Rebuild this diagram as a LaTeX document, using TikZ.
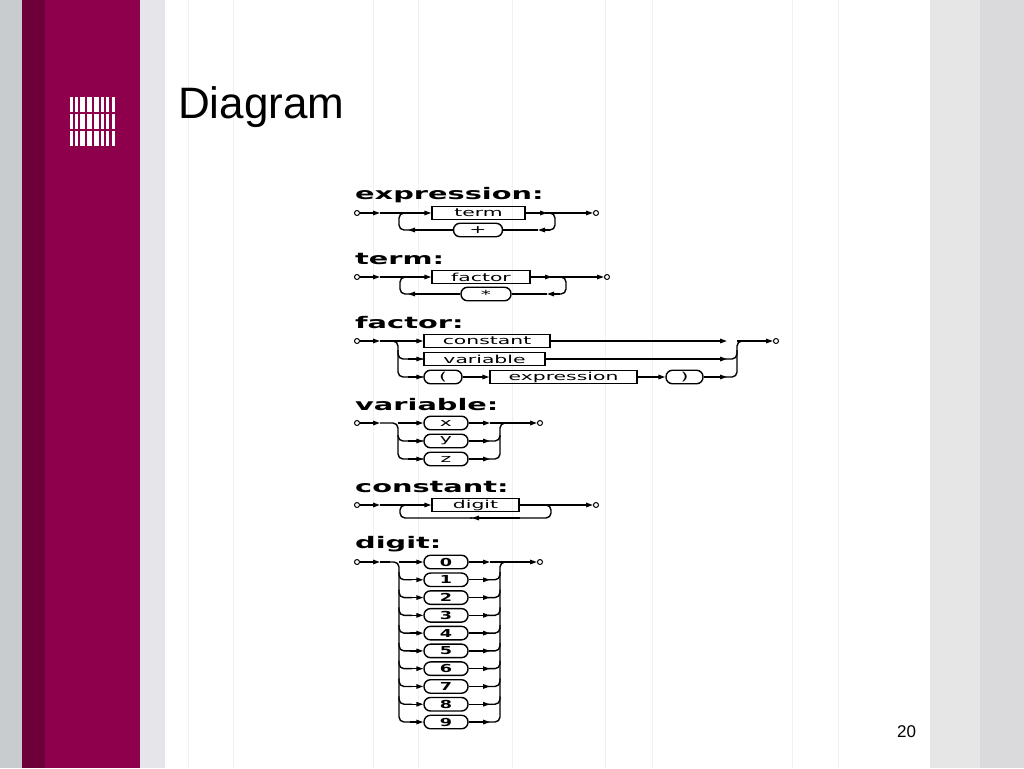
\documentclass[tikz,border=0pt]{standalone}
\usepackage{fontspec}
\usepackage{graphicx}
\setmainfont{Liberation Sans}
\newfontfamily\dvs{DejaVu Sans}
\usetikzlibrary{arrows.meta}
\definecolor{bandgray}{RGB}{201,204,207}
\definecolor{darkmaroon}{RGB}{110,0,57}
\definecolor{magentab}{RGB}{142,0,76}
\definecolor{lightstrip}{RGB}{229,229,234}
\definecolor{rgray1}{RGB}{230,230,230}
\definecolor{rgray2}{RGB}{218,218,220}
\begin{document}
\begin{tikzpicture}[x=1pt,y=-1pt,
  ln/.style={line width=1.4pt},
  rr/.style={line width=1.4pt,-{Triangle[length=7pt,width=4.5pt]}},
  brk/.style={line width=1.4pt,rounded corners=5pt},
  term/.style={draw,line width=1.4pt,minimum height=13.5pt,inner sep=0pt,font=\dvs\fontsize{11}{11}\selectfont},
  lit/.style={term,rounded corners=6.5pt},
  endpt/.style={circle,draw,line width=1pt,minimum size=5pt,inner sep=0pt},
  ttl/.style={anchor=base west,inner sep=0pt,font=\dvs\bfseries\fontsize{16}{16}\selectfont}]
\useasboundingbox (0,0) rectangle (1024,768);
% background
\fill[white] (0,0) rectangle (1024,768);
\fill[bandgray] (0,0) rectangle (22,768);
\fill[darkmaroon] (22,0) rectangle (45,768);
\fill[magentab] (45,0) rectangle (140,768);
\fill[lightstrip] (140,0) rectangle (165,768);
\fill[rgray1] (930,0) rectangle (980,768);
\fill[rgray2] (980,0) rectangle (1024,768);
\foreach \x in {188,233,373,418,512,605,652,792,838}
  \draw[gray!12,line width=1pt] (\x,0) -- (\x,768);
% logo
\foreach \x/\w in {70/3,75/3,80/5,87/5,94/5,101/3,106/3,112/3}
  \foreach \y in {97,114,131}
    \fill[white] (\x,\y) rectangle ++(\w,15);
\node[anchor=base west,inner sep=0pt,font=\fontsize{44}{44}\selectfont] (title) at (178,118) {Diagram};
\node[anchor=base west,inner sep=0pt,font=\fontsize{17}{17}\selectfont] (pg) at (897,737) {20};

% ===== expression
\node[ttl] (tE) at (355,199) {\scalebox{1.8}[1]{expression:}};
\node[endpt] (e0) at (357,213) {};
\node[term,minimum width=93pt] (eT) at (478.5,213) {\scalebox{1.85}[1]{term}};
\node[lit,minimum width=49pt] (eP) at (478,230) {\scalebox{1.85}[1]{+}};
\node[endpt] (e1) at (596,213) {};
\draw[rr] (e0) -- (380,213);
\draw[rr] (380,213) -- (eT.west);
\draw[rr] (eT.east) -- (547,213);
\draw[rr] (545,213) -- (e1.west);
\draw[brk] (545,213) -- (555,213) -- (555,230) -- (545,230);
\draw[rr] (550,230) -- (538,230);
\draw[ln] (538,230) -- (eP.east);
\draw[rr] (eP.west) -- (408,230);
\draw[brk] (410,230) -- (399,230) -- (399,213) -- (410,213);

% ===== term
\node[ttl] (tT) at (355,264) {\scalebox{1.8}[1]{term:}};
\node[endpt] (t0) at (357,277) {};
\node[term,minimum width=98pt] (tF) at (481,277) {\scalebox{1.85}[1]{factor}};
\node[lit,minimum width=50pt] (tS) at (486,294) {\scalebox{1.85}[1]{*}};
\node[endpt] (t1) at (607,277) {};
\draw[rr] (t0) -- (380,277);
\draw[rr] (380,277) -- (tF.west);
\draw[rr] (tF.east) -- (552,277);
\draw[rr] (550,277) -- (t1.west);
\draw[brk] (555,277) -- (566,277) -- (566,294) -- (555,294);
\draw[rr] (560,294) -- (547,294);
\draw[ln] (547,294) -- (tS.east);
\draw[rr] (tS.west) -- (408,294);
\draw[brk] (410,294) -- (400,294) -- (400,277) -- (410,277);

% ===== factor
\node[ttl] (tFa) at (355,328) {\scalebox{1.8}[1]{factor:}};
\node[endpt] (f0) at (357,341) {};
\node[term,minimum width=126pt] (fC) at (487,341) {\scalebox{1.85}[1]{constant}};
\node[term,minimum width=121pt] (fV) at (484.5,359) {\scalebox{1.85}[1]{variable}};
\node[lit,minimum width=38pt] (fL) at (443,377) {\scalebox{1.85}[1]{(}};
\node[term,minimum width=147pt] (fE) at (563.5,377) {\scalebox{1.85}[1]{expression}};
\node[lit,minimum width=37pt] (fR) at (684.5,377) {\scalebox{1.85}[1]{)}};
\node[endpt] (f1) at (776,341) {};
\draw[rr] (f0) -- (380,341);
\draw[ln] (380,341) -- (398,341);
\draw[rr] (398,341) -- (fC.west);
\draw[brk] (390,341) -- (398,341) -- (398,377) -- (fL.west);
\draw[brk] (398,350) -- (398,359) -- (fV.west);
\draw[rr] (408,359) -- (fV.west);
\draw[rr] (408,377) -- (fL.west);
\draw[rr] (fL.east) -- (fE.west);
\draw[rr] (fE.east) -- (fR.west);
\draw[rr] (fC.east) -- (727,341);
\draw[rr] (fV.east) -- (727,359);
\draw[rr] (fR.east) -- (727,377);
\draw[brk] (725,377) -- (737,377) -- (737,341) -- (750,341);
\draw[brk] (725,359) -- (737,359) -- (737,350);
\draw[rr] (737,341) -- (f1.west);

% ===== variable
\node[ttl] (tV) at (355,410) {\scalebox{1.8}[1]{variable:}};
\node[endpt] (v0) at (357,423) {};
\node[lit,minimum width=44pt] (vx) at (446,423) {\scalebox{1.85}[1]{x}};
\node[lit,minimum width=44pt] (vy) at (446,441) {\scalebox{1.85}[1]{y}};
\node[lit,minimum width=44pt] (vz) at (446,459) {\scalebox{1.85}[1]{z}};
\node[endpt] (v1) at (540,423) {};
\draw[rr] (v0) -- (380,423);
\draw[brk] (380,423) -- (398,423) -- (398,459) -- (vz.west);
\draw[brk] (398,435) -- (398,441) -- (vy.west);
\draw[rr] (398,423) -- (vx.west);
\draw[rr] (408,441) -- (vy.west);
\draw[rr] (408,459) -- (vz.west);
\foreach \n/\y in {vx/423,vy/441,vz/459} \draw[rr] (\n.east) -- (490,\y);
\draw[brk] (488,459) -- (500,459) -- (500,423) -- (510,423);
\draw[brk] (488,441) -- (500,441) -- (500,435);
\draw[rr] (490,423) -- (v1.west);

% ===== constant
\node[ttl] (tC) at (355,492) {\scalebox{1.8}[1]{constant:}};
\node[endpt] (c0) at (357,505) {};
\node[term,minimum width=87pt] (cD) at (475.5,505) {\scalebox{1.85}[1]{digit}};
\node[endpt] (c1) at (596,505) {};
\draw[rr] (c0) -- (380,505);
\draw[rr] (380,505) -- (cD.west);
\draw[rr] (cD.east) -- (c1.west);
\draw[brk] (540,505) -- (551,505) -- (551,518) -- (470,518);
\draw[rr] (520,518) -- (472,518);
\draw[brk] (472,518) -- (400,518) -- (400,505) -- (410,505);

% ===== digit
\node[ttl] (tD) at (355,548) {\scalebox{1.8}[1]{digit:}};
\node[endpt] (d0) at (357,562) {};
\node[endpt] (d1) at (540,562) {};
\draw[rr] (d0) -- (380,562);
\draw[ln] (380,562) -- (390,562);
\foreach \i in {0,...,9}{
  \pgfmathsetmacro{\yy}{562+\i*17.78}
  \node[lit,minimum width=44pt,font=\dvs\bfseries\fontsize{11}{11}\selectfont] (dd\i) at (446,\yy) {\scalebox{1.6}[1]{\i}};
  \draw[rr] (410,\yy) -- (dd\i.west);
  \draw[rr] (dd\i.east) -- (490,\yy);
}
\draw[brk] (390,562) -- (399,562) -- (399,722) -- (412,722);
\draw[brk] (488,722) -- (500,722) -- (500,562) -- (510,562);
\foreach \i in {1,...,8}{
  \pgfmathsetmacro{\yy}{562+\i*17.78}
  \draw[brk] (399,\yy-8) -- (399,\yy) -- (412,\yy);
  \draw[brk] (488,\yy) -- (500,\yy) -- (500,\yy-8);
}
\draw[rr] (490,562) -- (d1.west);
\draw[ln] (399,562) -- (410,562);
\end{tikzpicture}
\end{document}
